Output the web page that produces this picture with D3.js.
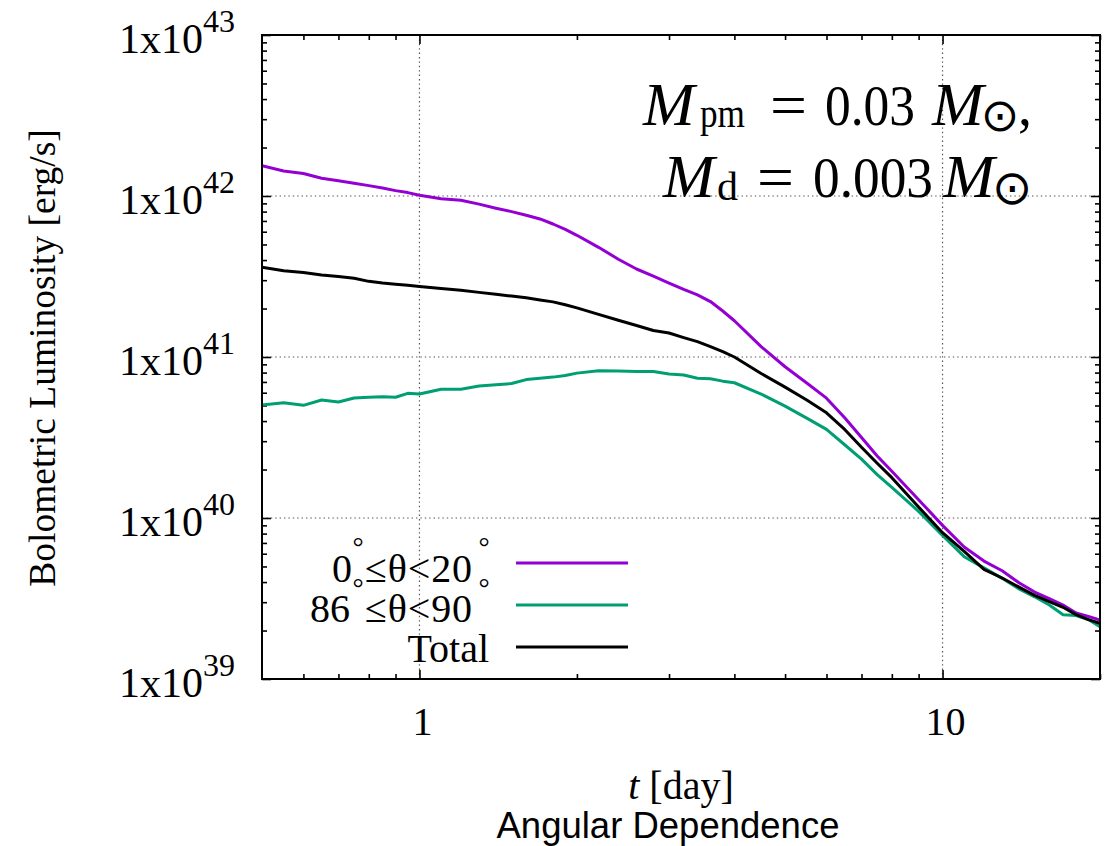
<!DOCTYPE html>
<html>
<head>
<meta charset="utf-8">
<script src="https://cdn.jsdelivr.net/npm/d3@7"></script>
<style>
  html, body { margin: 0; padding: 0; background: #fff; }
  svg { display: block; }
</style>
</head>
<body>
<svg id="chart" width="1108" height="846"></svg>
<script>
// Time after merger [day]
const days = [0.5,0.55,0.6,0.65,0.7,0.75,0.8,0.85,0.9,0.95,1.0,1.1,1.2,1.3,1.4,1.5,1.6,1.7,1.8,1.9,2.0,
  2.2,2.4,2.6,2.8,3.0,3.2,3.4,3.6,3.8,4.0,4.5,5.0,5.5,6.0,6.5,7.0,7.5,8.0,9.0,
  10,11,12,13,14,15,16,17,18,19,20];

// Bolometric luminosity [erg/s], polar viewing angles 0-20 deg
const polarLum = [1.54e42,1.43e42,1.38e42,1.29e42,1.245e42,1.20e42,1.16e42,1.12e42,1.08e42,1.05e42,1.01e42,
  9.6e41,9.4e41,8.9e41,8.4e41,8.0e41,7.6e41,7.2e41,6.7e41,6.2e41,5.7e41,
  4.8e41,4.05e41,3.52e41,3.18e41,2.88e41,2.63e41,2.43e41,2.21e41,1.93e41,1.68e41,
  1.16e41,8.7e40,6.9e40,5.55e40,4.2e40,3.16e40,2.43e40,1.95e40,1.30e40,
  9.0e39,6.6e39,5.4e39,4.7e39,3.96e39,3.47e39,3.16e39,2.88e39,2.57e39,2.45e39,2.32e39];

// Equatorial viewing angles 86-90 deg
const equatorLum = [5.04e40,5.19e40,5.01e40,5.41e40,5.25e40,5.56e40,5.62e40,5.66e40,5.62e40,5.95e40,5.89e40,
  6.31e40,6.31e40,6.61e40,6.73e40,6.84e40,7.24e40,7.38e40,7.50e40,7.67e40,7.94e40,
  8.22e40,8.18e40,8.13e40,8.13e40,7.85e40,7.73e40,7.38e40,7.33e40,7.08e40,6.92e40,
  5.89e40,4.95e40,4.17e40,3.55e40,2.85e40,2.32e40,1.86e40,1.55e40,1.10e40,
  7.8e39,5.75e39,4.9e39,4.22e39,3.63e39,3.24e39,2.88e39,2.51e39,2.48e39,2.34e39,2.11e39];

// Angle-integrated total
const totalLum = [3.61e41,3.43e41,3.35e41,3.23e41,3.16e41,3.08e41,2.95e41,2.88e41,2.83e41,2.79e41,2.74e41,
  2.66e41,2.60e41,2.52e41,2.45e41,2.39e41,2.33e41,2.26e41,2.20e41,2.11e41,2.02e41,
  1.84e41,1.69e41,1.57e41,1.46e41,1.41e41,1.32e41,1.245e41,1.16e41,1.08e41,1.0e41,
  7.9e40,6.5e40,5.4e40,4.5e40,3.55e40,2.75e40,2.19e40,1.78e40,1.17e40,
  8.1e39,6.2e39,4.8e39,4.24e39,3.72e39,3.31e39,3.02e39,2.79e39,2.51e39,2.34e39,2.22e39];

const seriesColors = ["#9400d3", "#009e73", "#000000"];
const xMajor = [1, 10];
const xMinor = [0.6,0.7,0.8,0.9,2,3,4,5,6,7,8,9,20];
const yExponents = [39, 40, 41, 42, 43];

(function draw() {
  const svg = d3.select("#chart");
  const pLeft = 262, pRight = 1100, pTop = 35, pBottom = 679;

  const x = d3.scaleLog().domain([0.5, 20]).range([pLeft, pRight]);
  const y = d3.scaleLog().domain([1e39, 1e43]).range([pBottom, pTop]);

  const yMajor = yExponents.map(e => Math.pow(10, e));
  const yMinor = [];
  for (let e = 39; e < 43; e++) for (let m = 2; m <= 9; m++) yMinor.push(m * Math.pow(10, e));

  const serif = "'Liberation Serif', 'Times New Roman', serif";

  // grid
  const grid = svg.append("g").attr("stroke", "#555").attr("stroke-width", 1.2)
    .attr("stroke-dasharray", "1.4,3");
  grid.selectAll("line.gx").data(xMajor).join("line").attr("class", "gx")
    .attr("x1", d => x(d)).attr("x2", d => x(d)).attr("y1", pTop).attr("y2", pBottom);
  grid.selectAll("line.gy").data(yMajor.slice(1, -1)).join("line").attr("class", "gy")
    .attr("x1", pLeft).attr("x2", pRight).attr("y1", d => y(d)).attr("y2", d => y(d));

  // inward ticks on all four sides
  function tickAxis(axisFn, scale, vals, len, transform) {
    const g = svg.append("g").attr("transform", transform)
      .call(axisFn(scale).tickValues(vals).tickSize(len).tickFormat(""));
    g.select(".domain").remove();
    g.selectAll(".tick line").attr("stroke", "#000").attr("stroke-width", 1.6);
  }
  tickAxis(d3.axisBottom, x, xMajor, -9, `translate(0,${pBottom})`);
  tickAxis(d3.axisBottom, x, xMinor, -5, `translate(0,${pBottom})`);
  tickAxis(d3.axisTop, x, xMajor, -9, `translate(0,${pTop})`);
  tickAxis(d3.axisTop, x, xMinor, -5, `translate(0,${pTop})`);
  tickAxis(d3.axisLeft, y, yMajor, -9, `translate(${pLeft},0)`);
  tickAxis(d3.axisLeft, y, yMinor, -5, `translate(${pLeft},0)`);
  tickAxis(d3.axisRight, y, yMajor, -9, `translate(${pRight},0)`);
  tickAxis(d3.axisRight, y, yMinor, -5, `translate(${pRight},0)`);

  // curves
  svg.append("clipPath").attr("id", "plotclip").append("rect")
    .attr("x", pLeft).attr("y", pTop).attr("width", pRight - pLeft).attr("height", pBottom - pTop);
  const line = d3.line().x((d, i) => x(days[i])).y(d => y(d));
  const series = [polarLum, equatorLum, totalLum].map((values, i) => ({ values, color: seriesColors[i] }));
  svg.append("g").attr("clip-path", "url(#plotclip)")
    .selectAll("path").data(series).join("path")
    .attr("d", d => line(d.values))
    .attr("fill", "none").attr("stroke", d => d.color)
    .attr("stroke-width", 3).attr("stroke-linejoin", "round");

  // frame
  svg.append("rect").attr("x", pLeft).attr("y", pTop)
    .attr("width", pRight - pLeft).attr("height", pBottom - pTop)
    .attr("fill", "none").attr("stroke", "#000").attr("stroke-width", 2);

  // x tick labels
  svg.append("g").selectAll("text").data(xMajor).join("text")
    .attr("x", d => x(d) + 3).attr("y", 735)
    .attr("text-anchor", "middle").attr("font-family", serif).attr("font-size", 40)
    .text(d => d);

  // y tick labels: 1x10^n
  const yl = svg.append("g").selectAll("text").data(yExponents).join("text")
    .attr("x", 235).attr("y", d => y(Math.pow(10, d)) + 18)
    .attr("text-anchor", "end").attr("font-family", serif).attr("font-size", 42);
  yl.append("tspan").text("1x10");
  yl.append("tspan").attr("dy", -21).attr("font-size", 32).text(d => d);

  // axis titles
  svg.append("text").attr("transform", `translate(55,${(pTop + pBottom) / 2 + 1}) rotate(-90)`)
    .attr("text-anchor", "middle").attr("font-family", serif).attr("font-size", 37.5)
    .text("Bolometric Luminosity [erg/s]");

  const xt = svg.append("text").attr("x", 681).attr("y", 799)
    .attr("text-anchor", "middle").attr("font-family", serif).attr("font-size", 40);
  xt.append("tspan").attr("font-style", "italic").text("t");
  xt.append("tspan").text(" [day]");

  svg.append("text").attr("x", 668).attr("y", 838)
    .attr("text-anchor", "middle").attr("font-family", "'Liberation Sans', Arial, sans-serif")
    .attr("font-size", 36.5).text("Angular Dependence");

  // mass annotation, typeset piece by piece
  const ann = svg.append("g").attr("font-family", serif);
  function piece(px, py, str, size, opts = {}) {
    const t = ann.append("text").attr("x", px).attr("y", py).attr("font-size", size).text(str);
    if (opts.italic) t.attr("font-style", "italic");
    if (opts.len) t.attr("textLength", opts.len).attr("lengthAdjust", "spacingAndGlyphs");
    if (opts.anchor) t.attr("text-anchor", opts.anchor);
    if (opts.family) t.attr("font-family", opts.family);
    return t;
  }
  const sunFont = "'DejaVu Sans', sans-serif";
  // line 1: M_pm = 0.03 M_sun,
  piece(643, 125, "M", 62, { italic: true });
  piece(700, 127, "pm", 40, { len: 45 });
  piece(770, 125, "=", 60, { len: 37 });
  piece(825, 125, "0.03", 56, { len: 90 });
  piece(932, 125, "M", 62, { italic: true });
  piece(1000, 131, "\u2299", 46, { anchor: "middle", family: sunFont });
  piece(1018, 125, ",", 56);
  // line 2: M_d = 0.003 M_sun
  piece(663, 197, "M", 62, { italic: true });
  piece(717, 200, "d", 40, { len: 21 });
  piece(757, 197, "=", 60, { len: 37 });
  piece(813, 197, "0.003", 56, { len: 120 });
  piece(943, 197, "M", 62, { italic: true });
  piece(1012, 204, "\u2299", 48, { anchor: "middle", family: sunFont });

  // legend
  const lg = svg.append("g").attr("font-family", serif).attr("font-size", 40);
  lg.append("text").attr("x", 352).attr("y", 582).attr("text-anchor", "end").text("0");
  lg.append("text").attr("x", 365).attr("y", 582).attr("textLength", 107).text("\u2264\u03b8<20");
  lg.append("text").attr("x", 350).attr("y", 622).attr("text-anchor", "end").text("86");
  lg.append("text").attr("x", 365).attr("y", 622).attr("textLength", 107).text("\u2264\u03b8<90");
  lg.append("text").attr("x", 489).attr("y", 662).attr("text-anchor", "end").text("Total");
  // degree marks, each raised one line above its own entry
  const degMarks = [[358, 541], [484, 541], [358, 582], [484, 582]];
  lg.selectAll("text.deg").data(degMarks).join("text").attr("class", "deg")
    .attr("x", d => d[0]).attr("y", d => d[1] + 15).attr("text-anchor", "middle")
    .attr("font-size", 28).text("\u00b0");

  svg.append("g").selectAll("line").data(series).join("line")
    .attr("x1", 516).attr("x2", 628)
    .attr("y1", (d, i) => 563 + i * 42).attr("y2", (d, i) => 563 + i * 42)
    .attr("stroke", d => d.color).attr("stroke-width", 3);
})();
</script>
</body>
</html>
